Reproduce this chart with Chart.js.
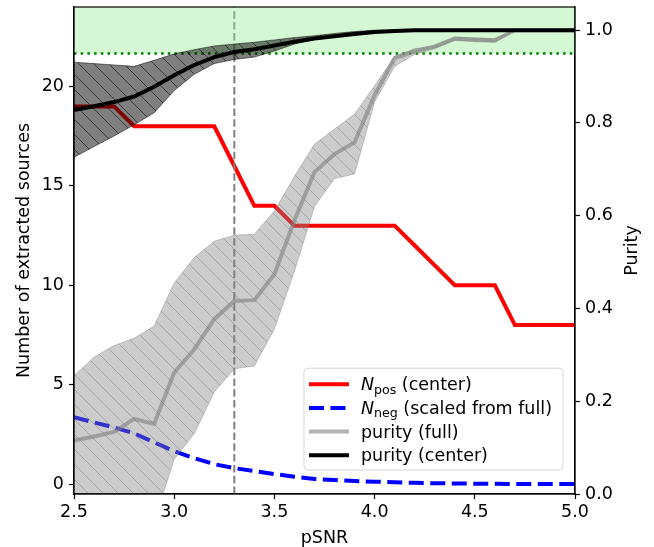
<!DOCTYPE html>
<html>
<head>
<meta charset="utf-8">
<script src="https://cdn.jsdelivr.net/npm/chart.js@4.4.1/dist/chart.umd.min.js"></script>
<style>
  html, body { margin: 0; padding: 0; background: #fff; }
  #chart { display: block; }
</style>
</head>
<body>
<canvas id="chart" width="654" height="547"></canvas>
<script>
// values
const pSNR = [2.5, 2.6, 2.7, 2.8, 2.9, 3.0, 3.1, 3.2, 3.3, 3.4, 3.5, 3.6, 3.7,
  3.8, 3.9, 4.0, 4.1, 4.2, 4.3, 4.4, 4.5, 4.6, 4.7, 4.8, 4.9, 5.0];

const nPosCenter = [19, 19, 19, 18, 18, 18, 18, 18, 16, 14, 14, 13, 13,
  13, 13, 13, 13, 12, 11, 10, 10, 10, 8, 8, 8, 8];

const nNegScaled = [3.37, 3.1, 2.85, 2.55, 2.1, 1.65, 1.3, 1.0, 0.8, 0.66, 0.5, 0.37, 0.26,
  0.2, 0.15, 0.12, 0.09, 0.06, 0.04, 0.03, 0.02, 0.01, 0, 0, 0, 0];

const purityFull = [0.115, 0.124, 0.134, 0.162, 0.151, 0.262, 0.312, 0.377, 0.416, 0.418, 0.474, 0.59, 0.694,
  0.733, 0.758, 0.86, 0.94, 0.955, 0.965, 0.982, 0.98, 0.978, 1.0, 1.0, 1.0, 1.0];
const purityFullLow = [-0.15, -0.12, -0.1, -0.08, -0.06, 0.075, 0.13, 0.22, 0.27, 0.276, 0.356, 0.48, 0.62,
  0.68, 0.69, 0.845, 0.922, 0.948, 0.96, 0.978, 0.975, 0.974, 1.0, 1.0, 1.0, 1.0];
const purityFullHigh = [0.255, 0.295, 0.32, 0.336, 0.362, 0.455, 0.51, 0.545, 0.558, 0.56, 0.61, 0.685, 0.754,
  0.787, 0.819, 0.88, 0.944, 0.96, 0.966, 0.985, 0.983, 0.982, 1.0, 1.0, 1.0, 1.0];

const purityCenter = [0.828, 0.836, 0.845, 0.857, 0.878, 0.903, 0.925, 0.942, 0.953, 0.959, 0.967, 0.975, 0.982,
  0.987, 0.992, 0.996, 0.998, 1.0, 1.0, 1.0, 1.0, 1.0, 1.0, 1.0, 1.0, 1.0];
const purityCenterLow = [0.726, 0.749, 0.772, 0.796, 0.822, 0.87, 0.905, 0.928, 0.937, 0.942, 0.955, 0.97, 0.98,
  0.988, 0.994, 0.998, 1.0, 1.0, 1.0, 1.0, 1.0, 1.0, 1.0, 1.0, 1.0, 1.0];
const purityCenterHigh = [0.931, 0.928, 0.925, 0.922, 0.935, 0.949, 0.958, 0.966, 0.97, 0.974, 0.979, 0.984, 0.988,
  0.993, 0.997, 1.0, 1.0, 1.0, 1.0, 1.0, 1.0, 1.0, 1.0, 1.0, 1.0, 1.0];

const snrCut = 3.3;
const purityGoal = 0.95;

const xTicks = [2.5, 3.0, 3.5, 4.0, 4.5, 5.0];
const countTicks = [0, 5, 10, 15, 20];
const purityTicks = [0.0, 0.2, 0.4, 0.6, 0.8, 1.0];

const FONT = 'DejaVu Sans';
const FS = 17.5;

Chart.defaults.color = '#000';
Chart.defaults.font.family = FONT;
Chart.defaults.font.size = FS;

function pts(ys) {
  return pSNR.map((x, i) => ({ x: x, y: ys[i] }));
}

function hatch(fill, stroke) {
  const s = 15;
  const c = document.createElement('canvas');
  c.width = s; c.height = s;
  const g = c.getContext('2d');
  g.fillStyle = fill;
  g.fillRect(0, 0, s, s);
  g.strokeStyle = stroke;
  g.lineWidth = 1;
  g.beginPath();
  for (const k of [-1, 0, 1]) {
    g.moveTo(k * s, 0);
    g.lineTo(k * s + s, s);
  }
  g.stroke();
  return g.createPattern(c, 'repeat');
}

const greyFill = 'rgba(128,128,128,0.4)';
const darkFill = 'rgba(0,0,0,0.5)';

const plain = { pointRadius: 0, tension: 0 };

const datasets = [
  { ...plain, label: 'Npos (center)', data: pts(nPosCenter), yAxisID: 'y',
    borderColor: '#ff0000', borderWidth: 4, order: 20 },
  { ...plain, label: 'Nneg (scaled from full)', data: pts(nNegScaled), yAxisID: 'y',
    borderColor: '#0000ff', borderWidth: 4, borderDash: [15, 6.5], order: 19 },
  { ...plain, label: 'cut', data: [{ x: snrCut, y: -0.5 }, { x: snrCut, y: 24 }], yAxisID: 'y',
    borderColor: 'rgba(128,128,128,1)', borderWidth: 2, borderDash: [7.5, 3.3], order: 18 },
  { ...plain, label: 'goal span', data: [{ x: 2.5, y: 1.05 }, { x: 5.0, y: 1.05 }], yAxisID: 'y2',
    borderWidth: 0, fill: { value: purityGoal }, backgroundColor: 'rgba(144,238,144,0.4)', order: 17 },
  { ...plain, label: 'goal', data: [{ x: 2.5, y: purityGoal }, { x: 5.0, y: purityGoal }], yAxisID: 'y2',
    borderColor: '#008000', borderWidth: 2.5, borderDash: [2.5, 4.2], order: 16 },
  { ...plain, label: 'full low', data: pts(purityFullLow), yAxisID: 'y2',
    borderColor: greyFill, borderWidth: 1, order: 15 },
  { ...plain, label: 'full high', data: pts(purityFullHigh), yAxisID: 'y2',
    borderColor: greyFill, borderWidth: 1, fill: '-1',
    backgroundColor: hatch(greyFill, 'rgba(128,128,128,0.5)'), order: 14 },
  { ...plain, label: 'center low', data: pts(purityCenterLow), yAxisID: 'y2',
    borderColor: darkFill, borderWidth: 1, order: 13 },
  { ...plain, label: 'center high', data: pts(purityCenterHigh), yAxisID: 'y2',
    borderColor: darkFill, borderWidth: 1, fill: '-1',
    backgroundColor: hatch(darkFill, 'rgba(0,0,0,0.55)'), order: 12 },
  { ...plain, label: 'purity (full)', data: pts(purityFull), yAxisID: 'y2',
    borderColor: 'rgba(128,128,128,0.6)', borderWidth: 4, order: 11 },
  { ...plain, label: 'purity (center)', data: pts(purityCenter), yAxisID: 'y2',
    borderColor: '#000000', borderWidth: 4, order: 10 }
];

const legendEntries = [
  { main: 'N', sub: 'pos', rest: ' (center)', ds: 0 },
  { main: 'N', sub: 'neg', rest: ' (scaled from full)', ds: 1 },
  { main: '', sub: '', rest: 'purity (full)', ds: 9 },
  { main: '', sub: '', rest: 'purity (center)', ds: 10 }
];

const framePlugin = {
  id: 'frame',
  afterDatasetsDraw(chart) {
    const { ctx, chartArea: ca } = chart;
    ctx.save();
    ctx.strokeStyle = '#000';
    ctx.lineWidth = 1.2;
    ctx.strokeRect(ca.left, ca.top, ca.right - ca.left, ca.bottom - ca.top);
    ctx.restore();
  }
};

const extrasPlugin = {
  id: 'extras',
  afterDraw(chart) {
    const { ctx, chartArea: ca } = chart;
    const subFs = FS * 0.72;
    ctx.save();

    // right axis title, reading bottom to top
    ctx.translate(ca.right + 57, (ca.top + ca.bottom) / 2);
    ctx.rotate(-Math.PI / 2);
    ctx.font = FS + 'px "' + FONT + '"';
    ctx.textAlign = 'center';
    ctx.textBaseline = 'middle';
    ctx.fillStyle = '#000';
    ctx.fillText('Purity', 0, 0);
    ctx.setTransform(1, 0, 0, 1, 0, 0);

    // legend box
    const widthOf = e => {
      ctx.font = 'italic ' + FS + 'px "' + FONT + '"';
      let w = ctx.measureText(e.main).width;
      ctx.font = subFs + 'px "' + FONT + '"';
      w += ctx.measureText(e.sub).width;
      ctx.font = FS + 'px "' + FONT + '"';
      return w + ctx.measureText(e.rest).width;
    };
    const textW = Math.max(...legendEntries.map(widthOf));
    const rowH = 23.7;
    const boxW = 5 + 40 + 12 + textW + 11;
    const boxH = legendEntries.length * rowH + 7;
    const bx = ca.right - 12 - boxW;
    const by = ca.bottom - 24 - boxH;

    ctx.beginPath();
    ctx.roundRect(bx, by, boxW, boxH, 4);
    ctx.fillStyle = 'rgba(255,255,255,0.8)';
    ctx.fill();
    ctx.strokeStyle = '#d6d6d6';
    ctx.lineWidth = 1;
    ctx.stroke();

    legendEntries.forEach((e, i) => {
      const ds = chart.data.datasets[e.ds];
      const cy = by + 16 + i * rowH;
      ctx.beginPath();
      ctx.strokeStyle = ds.borderColor;
      ctx.lineWidth = ds.borderWidth;
      ctx.setLineDash(ds.borderDash || []);
      ctx.moveTo(bx + 5, cy);
      ctx.lineTo(bx + 45, cy);
      ctx.stroke();
      ctx.setLineDash([]);

      let tx = bx + 57;
      const base = cy + 6;
      ctx.fillStyle = '#000';
      ctx.textAlign = 'left';
      ctx.textBaseline = 'alphabetic';
      if (e.main) {
        ctx.font = 'italic ' + FS + 'px "' + FONT + '"';
        ctx.fillText(e.main, tx, base);
        tx += ctx.measureText(e.main).width;
        ctx.font = subFs + 'px "' + FONT + '"';
        ctx.fillText(e.sub, tx, base + 3.5);
        tx += ctx.measureText(e.sub).width;
      }
      ctx.font = FS + 'px "' + FONT + '"';
      ctx.fillText(e.rest, tx, base);
    });
    ctx.restore();
  }
};

const tickGrid = {
  display: true,
  drawOnChartArea: false,
  tickLength: 5,
  tickColor: '#000',
  tickWidth: 1.2
};

function fixVertical(width) {
  return s => { s.width = width; s.paddingTop = 0; s.paddingBottom = 0; };
}

new Chart(document.getElementById('chart'), {
  type: 'line',
  data: { datasets: datasets },
  options: {
    responsive: false,
    animation: false,
    devicePixelRatio: 1,
    layout: { padding: { top: 7, left: 0, right: 0, bottom: 0 } },
    plugins: {
      legend: { display: false },
      tooltip: { enabled: false }
    },
    scales: {
      x: {
        type: 'linear',
        min: 2.5,
        max: 5.0,
        grid: tickGrid,
        border: { display: true, color: '#000', width: 1.2 },
        afterBuildTicks: s => { s.ticks = xTicks.map(v => ({ value: v })); },
        afterFit: s => { s.height = 53; s.paddingLeft = 0; s.paddingRight = 0; },
        ticks: { padding: 3, maxRotation: 0, callback: v => v.toFixed(1) },
        title: { display: true, text: 'pSNR', padding: 0, font: { size: FS, lineHeight: 1.0 } }
      },
      y: {
        type: 'linear',
        position: 'left',
        min: -0.5,
        max: 24,
        grid: tickGrid,
        border: { display: true, color: '#000', width: 1.2 },
        afterBuildTicks: s => { s.ticks = countTicks.map(v => ({ value: v })); },
        afterFit: fixVertical(74),
        ticks: { padding: 5, callback: v => String(v) },
        title: { display: true, text: 'Number of extracted sources', padding: { top: 14, bottom: 0 } }
      },
      y2: {
        type: 'linear',
        position: 'right',
        min: 0,
        max: 1.05,
        grid: tickGrid,
        border: { display: true, color: '#000', width: 1.2 },
        afterBuildTicks: s => { s.ticks = purityTicks.map(v => ({ value: v })); },
        afterFit: fixVertical(79),
        ticks: { padding: 5, callback: v => v.toFixed(1) }
      }
    }
  },
  plugins: [framePlugin, extrasPlugin]
});
</script>
</body>
</html>
